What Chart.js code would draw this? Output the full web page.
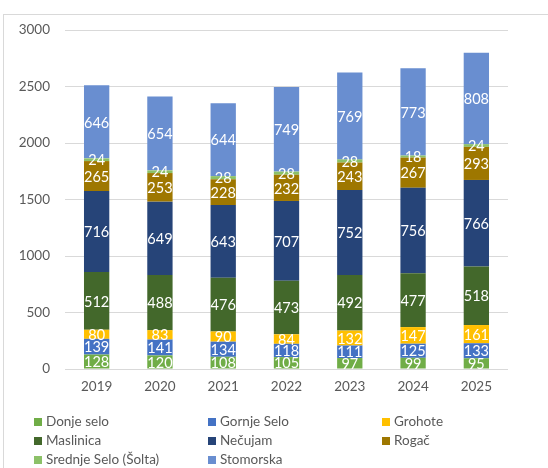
<!DOCTYPE html>
<html>
<head>
<meta charset="utf-8">
<script src="https://cdn.jsdelivr.net/npm/chart.js@4"></script>
<style>
  html, body { margin: 0; padding: 0; background: #fff; }
  #wrap { position: relative; width: 548px; height: 468px; overflow: hidden; }
  #frame { position: absolute; left: 3px; top: 14px; width: 560px; height: 470px; border: 1px solid #d9d9d9; box-sizing: border-box; }
  #legend { position: absolute; left: 0; top: 0; width: 548px; height: 468px; font-family: Lato, "Open Sans", sans-serif; font-size: 13.5px; color: #595959; }
  .item { position: absolute; white-space: nowrap; line-height: 16px; }
  .item span.box { display: inline-block; width: 8px; height: 8px; margin-right: 4px; vertical-align: 0px; }
</style>
</head>
<body>
<div id="wrap">
  <div id="frame"></div>
  <canvas id="chart" width="548" height="468"></canvas>
  <div id="legend"></div>
</div>
<script>
// godine i brojevi po mjestima
const godine = ['2019', '2020', '2021', '2022', '2023', '2024', '2025'];
const mjesta = ['Donje selo', 'Gornje Selo', 'Grohote', 'Maslinica', 'Nečujam', 'Rogač', 'Srednje Selo (Šolta)', 'Stomorska'];

const donjeSelo   = [128, 120, 108, 105, 97, 99, 95];
const gornjeSelo  = [139, 141, 134, 118, 111, 125, 133];
const grohote     = [80, 83, 90, 84, 132, 147, 161];
const maslinica   = [512, 488, 476, 473, 492, 477, 518];
const necujam     = [716, 649, 643, 707, 752, 756, 766];
const rogac       = [265, 253, 228, 232, 243, 267, 293];
const srednjeSelo = [24, 24, 28, 28, 28, 18, 24];
const stomorska   = [646, 654, 644, 749, 769, 773, 808];

const yTicks = [0, 500, 1000, 1500, 2000, 2500, 3000];

const boje = ['#70ad47', '#4472c4', '#ffc000', '#43682b', '#264478', '#9e7700', '#8cc168', '#698ed0'];
const podaci = [donjeSelo, gornjeSelo, grohote, maslinica, necujam, rogac, srednjeSelo, stomorska];

const font = 'Lato, "Open Sans", sans-serif';

// vrijednosti unutar stupaca
const oznake = {
  id: 'oznake',
  afterDatasetsDraw(chart) {
    const c = chart.ctx;
    c.save();
    c.font = '14.5px ' + font;
    c.fillStyle = '#ffffff';
    c.textAlign = 'center';
    c.textBaseline = 'middle';
    chart.data.datasets.forEach((ds, i) => {
      chart.getDatasetMeta(i).data.forEach((bar, j) => {
        const y = (bar.y + bar.base) / 2;
        c.fillText(String(ds.data[j]), bar.x, y + 1);
      });
    });
    c.restore();
  }
};

new Chart(document.getElementById('chart'), {
  type: 'bar',
  data: {
    labels: godine,
    datasets: mjesta.map((m, i) => ({
      label: m,
      data: podaci[i],
      backgroundColor: boje[i],
      borderWidth: 0,
      categoryPercentage: 1,
      barPercentage: 0.4
    }))
  },
  options: {
    responsive: false,
    animation: false,
    layout: { padding: { top: 30, right: 40, left: 0, bottom: 0 } },
    plugins: { legend: { display: false }, tooltip: { enabled: false } },
    scales: {
      x: {
        stacked: true,
        grid: { display: false, drawTicks: false },
        border: { display: false },
        ticks: { color: '#595959', font: { family: font, size: 13.5 }, padding: 10 },
        afterFit(s) { s.height = 99; }
      },
      y: {
        stacked: true,
        min: 0, max: 3000,
        afterBuildTicks(s) { s.ticks = yTicks.map(v => ({ value: v })); },
        grid: { color: '#d9d9d9', drawTicks: false },
        border: { display: false },
        ticks: { color: '#595959', font: { family: font, size: 13.5 }, padding: 15, callback: v => String(v) },
        afterFit(s) { s.width = 65; }
      }
    }
  },
  plugins: [oznake]
});

// legenda u tri stupca
const leg = document.getElementById('legend');
const stupciX = [34, 208, 382];
const redoviY = [413, 432, 451];
mjesta.forEach((m, i) => {
  const d = document.createElement('div');
  d.className = 'item';
  d.style.left = stupciX[i % 3] + 'px';
  d.style.top = redoviY[Math.floor(i / 3)] + 'px';
  d.innerHTML = '<span class="box" style="background:' + boje[i] + '"></span>' + m;
  leg.appendChild(d);
});
</script>
</body>
</html>
